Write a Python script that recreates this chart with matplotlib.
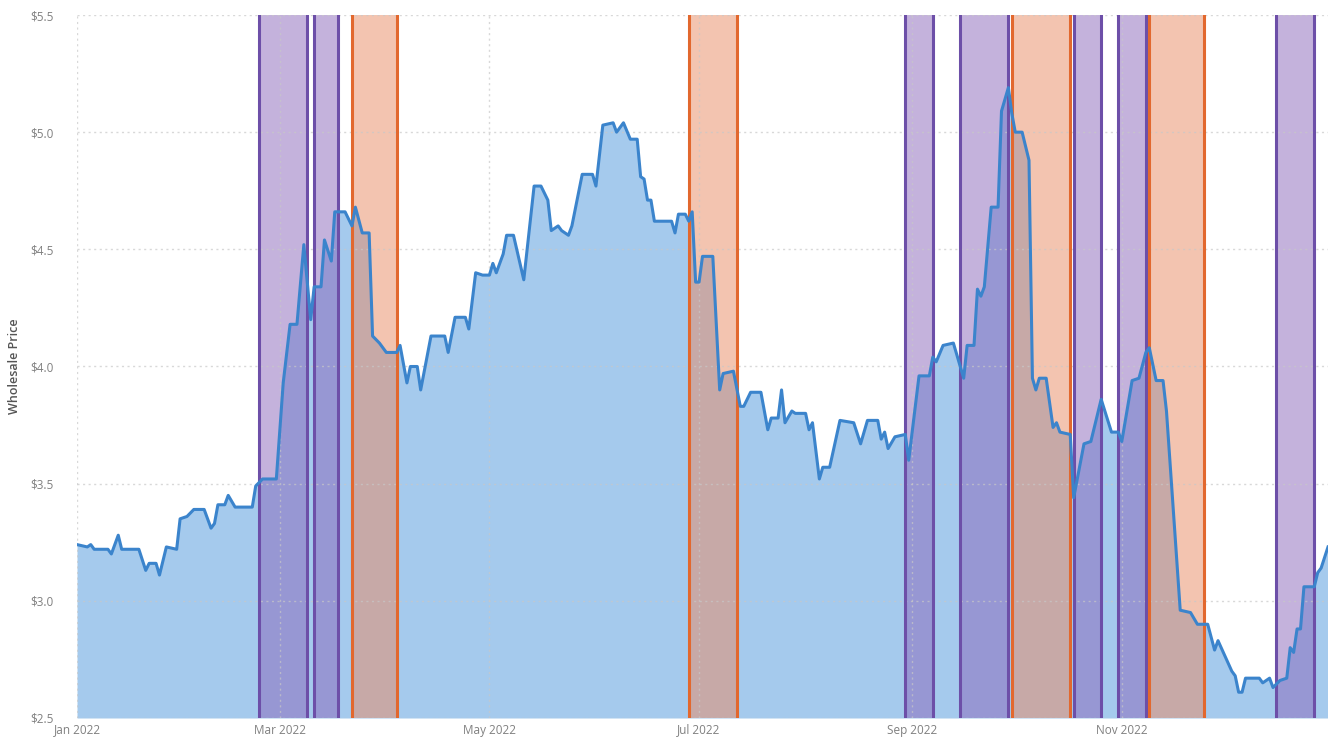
import matplotlib
matplotlib.use("Agg")
import matplotlib.pyplot as plt
import matplotlib.dates as mdates
import pandas as pd

# Daily wholesale price turning points, 2022
price_dates = [
    "2022-01-01", "2022-01-04", "2022-01-05", "2022-01-06", "2022-01-10", "2022-01-11",
    "2022-01-13", "2022-01-14", "2022-01-19", "2022-01-21", "2022-01-22", "2022-01-24",
    "2022-01-25", "2022-01-27", "2022-01-30", "2022-01-31", "2022-02-02", "2022-02-04",
    "2022-02-07", "2022-02-09", "2022-02-10", "2022-02-11", "2022-02-13", "2022-02-14",
    "2022-02-16", "2022-02-21", "2022-02-22", "2022-02-24", "2022-02-28", "2022-03-02",
    "2022-03-04", "2022-03-06", "2022-03-08", "2022-03-10", "2022-03-11", "2022-03-13",
    "2022-03-14", "2022-03-16", "2022-03-17", "2022-03-20", "2022-03-22", "2022-03-23",
    "2022-03-25", "2022-03-27", "2022-03-28", "2022-03-30", "2022-04-01", "2022-04-04",
    "2022-04-05", "2022-04-07", "2022-04-08", "2022-04-10", "2022-04-11", "2022-04-14",
    "2022-04-18", "2022-04-19", "2022-04-21", "2022-04-24", "2022-04-25", "2022-04-27",
    "2022-04-29", "2022-05-01", "2022-05-02", "2022-05-03", "2022-05-05", "2022-05-06",
    "2022-05-08", "2022-05-11", "2022-05-14", "2022-05-16", "2022-05-18", "2022-05-19",
    "2022-05-21", "2022-05-22", "2022-05-24", "2022-05-25", "2022-05-28", "2022-05-31",
    "2022-06-01", "2022-06-03", "2022-06-06", "2022-06-07", "2022-06-09", "2022-06-11",
    "2022-06-13", "2022-06-14", "2022-06-15", "2022-06-16", "2022-06-17", "2022-06-18",
    "2022-06-23", "2022-06-24", "2022-06-25", "2022-06-27", "2022-06-28", "2022-06-29",
    "2022-06-30", "2022-07-01", "2022-07-02", "2022-07-05", "2022-07-07", "2022-07-08",
    "2022-07-11", "2022-07-13", "2022-07-14", "2022-07-16", "2022-07-19", "2022-07-21",
    "2022-07-22", "2022-07-24", "2022-07-25", "2022-07-26", "2022-07-28", "2022-07-29",
    "2022-08-01", "2022-08-02", "2022-08-03", "2022-08-05", "2022-08-06", "2022-08-08",
    "2022-08-11", "2022-08-15", "2022-08-17", "2022-08-19", "2022-08-22", "2022-08-23",
    "2022-08-24", "2022-08-25", "2022-08-27", "2022-08-30", "2022-08-31", "2022-09-03",
    "2022-09-06", "2022-09-07", "2022-09-08", "2022-09-10", "2022-09-13", "2022-09-16",
    "2022-09-17", "2022-09-19", "2022-09-20", "2022-09-21", "2022-09-22", "2022-09-24",
    "2022-09-26", "2022-09-27", "2022-09-29", "2022-09-30", "2022-10-01", "2022-10-03",
    "2022-10-05", "2022-10-06", "2022-10-07", "2022-10-08", "2022-10-10", "2022-10-12",
    "2022-10-13", "2022-10-14", "2022-10-17", "2022-10-18", "2022-10-21", "2022-10-23",
    "2022-10-26", "2022-10-29", "2022-10-31", "2022-11-01", "2022-11-04", "2022-11-06",
    "2022-11-08", "2022-11-09", "2022-11-11", "2022-11-13", "2022-11-14", "2022-11-18",
    "2022-11-21", "2022-11-23", "2022-11-26", "2022-11-28", "2022-11-29", "2022-12-03",
    "2022-12-04", "2022-12-05", "2022-12-06", "2022-12-07", "2022-12-11", "2022-12-12",
    "2022-12-14", "2022-12-15", "2022-12-17", "2022-12-19", "2022-12-20", "2022-12-21",
    "2022-12-22", "2022-12-23", "2022-12-24", "2022-12-27", "2022-12-28", "2022-12-29",
    "2022-12-31",
]
price_values = [
    3.24, 3.23, 3.24, 3.22, 3.22, 3.20,
    3.28, 3.22, 3.22, 3.13, 3.16, 3.16,
    3.11, 3.23, 3.22, 3.35, 3.36, 3.39,
    3.39, 3.31, 3.33, 3.41, 3.41, 3.45,
    3.40, 3.40, 3.49, 3.52, 3.52, 3.93,
    4.18, 4.18, 4.52, 4.20, 4.34, 4.34,
    4.54, 4.45, 4.66, 4.66, 4.60, 4.68,
    4.57, 4.57, 4.13, 4.10, 4.06, 4.06,
    4.09, 3.93, 4.00, 4.00, 3.90, 4.13,
    4.13, 4.06, 4.21, 4.21, 4.16, 4.40,
    4.39, 4.39, 4.44, 4.40, 4.48, 4.56,
    4.56, 4.37, 4.77, 4.77, 4.71, 4.58,
    4.60, 4.58, 4.56, 4.60, 4.82, 4.82,
    4.77, 5.03, 5.04, 5.00, 5.04, 4.97,
    4.97, 4.81, 4.80, 4.71, 4.71, 4.62,
    4.62, 4.57, 4.65, 4.65, 4.62, 4.66,
    4.36, 4.36, 4.47, 4.47, 3.90, 3.97,
    3.98, 3.83, 3.83, 3.89, 3.89, 3.73,
    3.78, 3.78, 3.90, 3.76, 3.81, 3.80,
    3.80, 3.73, 3.76, 3.52, 3.57, 3.57,
    3.77, 3.76, 3.67, 3.77, 3.77, 3.69,
    3.72, 3.65, 3.70, 3.71, 3.60, 3.96,
    3.96, 4.04, 4.02, 4.09, 4.10, 3.95,
    4.09, 4.09, 4.33, 4.30, 4.34, 4.68,
    4.68, 5.09, 5.19, 5.08, 5.00, 5.00,
    4.88, 3.95, 3.90, 3.95, 3.95, 3.74,
    3.76, 3.72, 3.71, 3.44, 3.67, 3.68,
    3.86, 3.72, 3.72, 3.68, 3.94, 3.95,
    4.06, 4.08, 3.94, 3.94, 3.81, 2.96,
    2.95, 2.90, 2.90, 2.79, 2.83, 2.70,
    2.68, 2.61, 2.61, 2.67, 2.67, 2.65,
    2.67, 2.63, 2.66, 2.67, 2.80, 2.78,
    2.88, 2.88, 3.06, 3.06, 3.12, 3.14,
    3.23,
]

# Highlighted periods
purple_starts = ["2022-02-23", "2022-03-11", "2022-08-30", "2022-09-15", "2022-10-18", "2022-10-31", "2022-12-16"]
purple_ends = ["2022-03-09", "2022-03-18", "2022-09-07", "2022-09-29", "2022-10-26", "2022-11-08", "2022-12-27"]
orange_starts = ["2022-03-22", "2022-06-28", "2022-09-30", "2022-11-09"]
orange_ends = ["2022-04-04", "2022-07-12", "2022-10-17", "2022-11-25"]

tick_dates = ["2022-01-01", "2022-03-01", "2022-05-01", "2022-07-01", "2022-09-01", "2022-11-01"]
y_ticks = [2.5, 3.0, 3.5, 4.0, 4.5, 5.0, 5.5]

plt.rcParams["font.family"] = ["Open Sans", "DejaVu Sans"]

W, H = 1328, 741
fig = plt.figure(figsize=(W / 100, H / 100), dpi=100)
ax = fig.add_axes([77 / W, (H - 718) / H, (W - 77) / W, 703 / H])

x = pd.to_datetime(price_dates)
y = price_values

ax.fill_between(x, y, 2.5, color="#a5caed", linewidth=0, zorder=1)

purple_fill, purple_edge = "#8a66bb", "#6d4fa8"
orange_fill, orange_edge = "#e98a62", "#e2682e"
for s, e in zip(purple_starts, purple_ends):
    s, e = pd.Timestamp(s), pd.Timestamp(e)
    ax.axvspan(s, e, facecolor=purple_fill, alpha=0.5, edgecolor="none", zorder=2)
    for d in (s, e):
        ax.axvline(d, color=purple_edge, lw=2.2, zorder=3)
for s, e in zip(orange_starts, orange_ends):
    s, e = pd.Timestamp(s), pd.Timestamp(e)
    ax.axvspan(s, e, facecolor=orange_fill, alpha=0.5, edgecolor="none", zorder=2)
    for d in (s, e):
        ax.axvline(d, color=orange_edge, lw=2.2, zorder=3)

ax.plot(x, y, color="#3b84cc", lw=2.2, zorder=4, solid_joinstyle="round")

ax.set_xlim(pd.Timestamp("2022-01-01"), pd.Timestamp("2022-12-31"))
ax.set_ylim(2.5, 5.5)
ax.set_yticks(y_ticks)
ax.set_yticklabels([f"${v:.1f}" for v in y_ticks])
ax.set_xticks(pd.to_datetime(tick_dates))
ax.xaxis.set_major_formatter(mdates.DateFormatter("%b %Y"))

ax.grid(True, color="#c8c8c8", linestyle=(0, (1.5, 2.5)), lw=1.0, alpha=0.7, zorder=5)
ax.set_axisbelow(False)
for sp in ax.spines.values():
    sp.set_visible(False)
ax.tick_params(axis="both", length=0, labelcolor="#808080", labelsize=8.5)
ax.tick_params(axis="y", pad=17)
ax.tick_params(axis="x", pad=4)

fig.text(15 / W, 1 - 366 / H, "Wholesale Price", rotation=90, ha="center", va="center",
         fontsize=9, fontweight="semibold", color="#555555")

fig.savefig("out.png", dpi=100)
